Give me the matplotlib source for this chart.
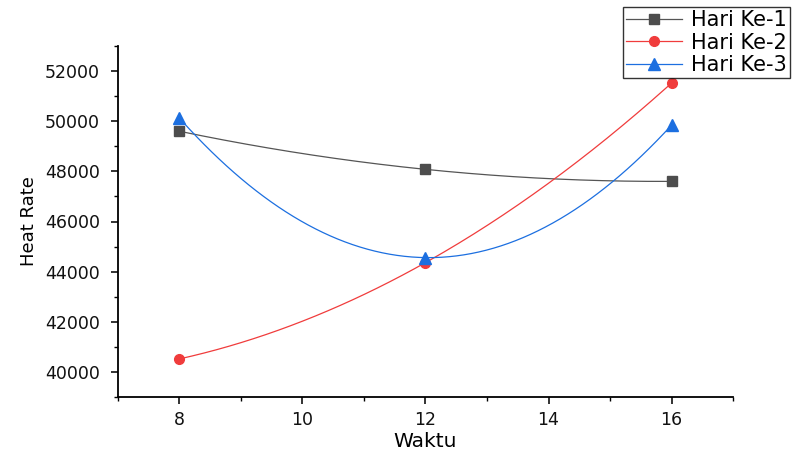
import numpy as np
import matplotlib
matplotlib.use("Agg")
import matplotlib.pyplot as plt
from matplotlib.ticker import MultipleLocator

plt.rcParams['font.family'] = ['DejaVu Sans']

waktu = [8, 12, 16]
hari1 = [49600, 48080, 47600]
hari2 = [40520, 44360, 51520]
hari3 = [50120, 44560, 49840]
labels = ["Hari Ke-1", "Hari Ke-2", "Hari Ke-3"]

fig = plt.figure(figsize=(7.99, 4.53), dpi=100)
ax = fig.add_axes([118/799, 1-397/453, (733-118)/799, (397-46)/453])

styles = [
    dict(color="#4d4d4d", marker="s", ms=7, line="#555555"),
    dict(color="#f03c3c", marker="o", ms=7, line="#f03c3c"),
    dict(color="#1c6fe0", marker="^", ms=8.5, line="#1c6fe0"),
]

xs = np.linspace(min(waktu), max(waktu), 200)
handles = []
for y, lab, st in zip([hari1, hari2, hari3], labels, styles):
    coef = np.polyfit(waktu, y, 2)
    ax.plot(xs, np.polyval(coef, xs), color=st["line"], lw=0.9, zorder=2)
    ax.plot(waktu, y, linestyle="none", marker=st["marker"], ms=st["ms"],
            color=st["color"], zorder=3)
    h, = ax.plot([], [], color=st["line"], lw=0.9, marker=st["marker"],
                 ms=st["ms"], markerfacecolor=st["color"], markeredgecolor=st["color"])
    handles.append(h)

ax.set_xlim(7, 17)
ax.set_ylim(39000, 53000)
ax.xaxis.set_major_locator(MultipleLocator(2))
ax.xaxis.set_minor_locator(MultipleLocator(1))
ax.yaxis.set_major_locator(MultipleLocator(2000))
ax.yaxis.set_minor_locator(MultipleLocator(1000))
ax.set_yticks([40000, 42000, 44000, 46000, 48000, 50000, 52000])
for s in ["top", "right"]:
    ax.spines[s].set_visible(False)
for s in ["left", "bottom"]:
    ax.spines[s].set_linewidth(1.3)
ax.tick_params(which="major", direction="out", length=5, width=1.2,
               labelsize=12.5, colors="#111111")
ax.tick_params(axis="y", which="major", pad=8)
ax.tick_params(axis="x", which="major", pad=5)
ax.tick_params(which="minor", direction="out", length=3, width=1.0)

ax.set_xlabel("Waktu", fontsize=14.5, labelpad=2)
ax.set_ylabel("Heat Rate", fontsize=13, labelpad=5)

fig.legend(handles=handles, labels=labels, loc="upper left",
           bbox_to_anchor=(623/799, 1-7/453), frameon=True, fancybox=False,
           edgecolor="black", fontsize=15, handlelength=2.7,
           borderpad=0.15, labelspacing=0.12, handletextpad=0.4, borderaxespad=0)

fig.savefig("out.png", dpi=100)
